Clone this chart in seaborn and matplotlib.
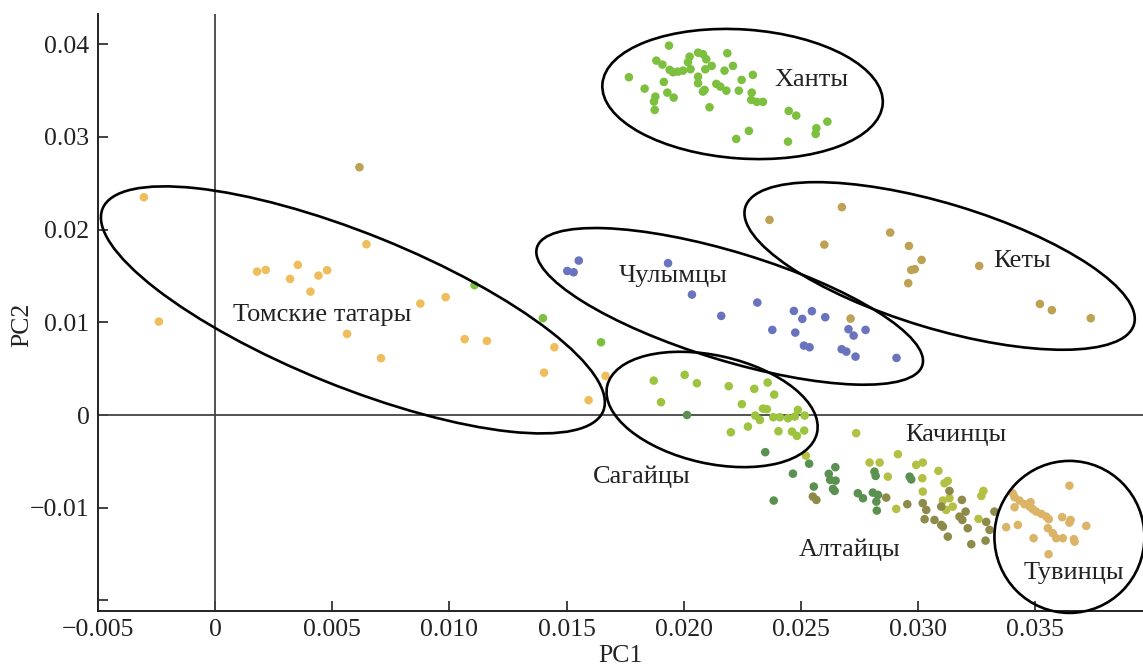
import numpy as np
import pandas as pd
import matplotlib
matplotlib.use('Agg')
import matplotlib.pyplot as plt
import matplotlib.transforms as mtransforms
from matplotlib.patches import Ellipse
import seaborn as sns

# PCA coordinates, one pair of lists per population
khanty_x = [0.01766, 0.01937, 0.01883, 0.01909, 0.01833, 0.01879, 0.01873, 0.01876, 0.01915, 0.01930,
            0.01957, 0.01940, 0.01954, 0.01975, 0.01997, 0.02018, 0.02025, 0.02029, 0.02061, 0.02082,
            0.02096, 0.02119, 0.02092, 0.02061, 0.02061, 0.02082, 0.02089, 0.02110, 0.02139, 0.02156,
            0.02182, 0.02174, 0.02186, 0.02210, 0.02247, 0.02295, 0.02235, 0.02290, 0.02288, 0.02312,
            0.02338, 0.02448, 0.02480, 0.02278, 0.02224, 0.02445, 0.02566, 0.02563, 0.02613,
            0.01107, 0.01399, 0.01647]
khanty_y = [0.03644, 0.03985, 0.03823, 0.03780, 0.03521, 0.03435, 0.03381, 0.03291, 0.03593, 0.03478,
            0.03424, 0.03723, 0.03698, 0.03704, 0.03715, 0.03806, 0.03866, 0.03730, 0.03909, 0.03892,
            0.03838, 0.03766, 0.03730, 0.03650, 0.03579, 0.03489, 0.03507, 0.03320, 0.03572, 0.03543,
            0.03499, 0.03715, 0.03903, 0.03766, 0.03615, 0.03669, 0.03499, 0.03478, 0.03399, 0.03378,
            0.03378, 0.03280, 0.03230, 0.03065, 0.02978, 0.02949, 0.03094, 0.03032, 0.03165,
            0.01400, 0.01044, 0.00785]

tomsk_x = [-0.00304, -0.00240, 0.00179, 0.00216, 0.00353, 0.00320, 0.00441, 0.00478, 0.00407, 0.00646,
           0.00563, 0.00708, 0.00876, 0.00984, 0.01065, 0.01160, 0.01448, 0.01404, 0.01594, 0.01666]
tomsk_y = [0.02349, 0.01008, 0.01547, 0.01565, 0.01619, 0.01468, 0.01504, 0.01562, 0.01331, 0.01842,
           0.00875, 0.00613, 0.01202, 0.01271, 0.00818, 0.00799, 0.00731, 0.00457, 0.00160, 0.00422]

kets_x = [0.00616, 0.02712, 0.02366, 0.02675, 0.02600, 0.02881, 0.02961, 0.03015, 0.02971, 0.02986,
          0.02958, 0.03261, 0.03520, 0.03571, 0.03737]
kets_y = [0.02673, 0.01040, 0.02105, 0.02242, 0.01838, 0.01968, 0.01824, 0.01673, 0.01565, 0.01573,
          0.01422, 0.01608, 0.01198, 0.01131, 0.01044]

chulym_x = [0.01552, 0.01503, 0.01530, 0.01933, 0.02035, 0.02160, 0.02314, 0.02378, 0.02470, 0.02547,
            0.02506, 0.02604, 0.02476, 0.02513, 0.02537, 0.02703, 0.02725, 0.02776, 0.02674, 0.02694,
            0.02733, 0.02908]
chulym_y = [0.01666, 0.01554, 0.01540, 0.01638, 0.01299, 0.01069, 0.01213, 0.00918, 0.01123, 0.01120,
            0.01037, 0.01055, 0.00889, 0.00749, 0.00731, 0.00926, 0.00857, 0.00918, 0.00710, 0.00684,
            0.00630, 0.00616]

sagai_x = [0.01872, 0.02004, 0.02056, 0.01903, 0.02192, 0.02301, 0.02358, 0.02386, 0.02248, 0.02338,
           0.02355, 0.02305, 0.02325, 0.02382, 0.02410, 0.02445, 0.02474, 0.02487, 0.02516, 0.02201,
           0.02274, 0.02404, 0.02462, 0.02483, 0.02514]
sagai_y = [0.00371, 0.00433, 0.00343, 0.00138, 0.00311, 0.00282, 0.00350, 0.00220, 0.00117, 0.00069,
           0.00063, -0.00006, -0.00053, -0.00024, -0.00024, -0.00035, -0.00017, 0.00055, -0.00006, -0.00186,
           -0.00125, -0.00175, -0.00179, -0.00225, -0.00168]

altai_x = [0.02014, 0.02348, 0.02384, 0.02466, 0.02535, 0.02555, 0.02619, 0.02625, 0.02647, 0.02648,
           0.02637, 0.02644, 0.02814, 0.02819, 0.02743, 0.02765, 0.02807, 0.02829, 0.02822, 0.02824,
           0.02964, 0.02971]
altai_y = [0.00000, -0.00401, -0.00923, -0.00633, -0.00525, -0.00772, -0.00635, -0.00700, -0.00563, -0.00708,
           -0.00797, -0.00819, -0.00611, -0.00657, -0.00844, -0.00898, -0.00837, -0.00862, -0.00934, -0.01031,
           -0.00665, -0.00695]

kachin_x = [0.02521, 0.02736, 0.02793, 0.02836, 0.02871, 0.02914, 0.02907, 0.02992, 0.03020, 0.03018,
            0.03020, 0.03087, 0.03113, 0.03127, 0.03106, 0.03134, 0.03148, 0.03258, 0.03279, 0.03270,
            0.03120]
kachin_y = [-0.00438, -0.00196, -0.00513, -0.00513, -0.00665, -0.00423, -0.01013, -0.00538, -0.00513, -0.00682,
            -0.00826, -0.00603, -0.00736, -0.00711, -0.00923, -0.00898, -0.00988, -0.01121, -0.00819, -0.00873,
            -0.01024]

# unlabeled olive points scattered between the Altai/Kachin and Tuva clusters
mixed_x = [0.02551, 0.02566, 0.02864, 0.02954, 0.03020, 0.03035, 0.03028, 0.03134, 0.03099, 0.03187,
           0.03203, 0.03177, 0.03189, 0.03070, 0.03099, 0.03106, 0.03127, 0.03227, 0.03291, 0.03288,
           0.03305, 0.03326, 0.03212]
mixed_y = [-0.00880, -0.00916, -0.00891, -0.00962, -0.00951, -0.01024, -0.01124, -0.00819, -0.00988, -0.00916,
           -0.01042, -0.01096, -0.01132, -0.01132, -0.01186, -0.01204, -0.01312, -0.01394, -0.01153, -0.01355,
           -0.01239, -0.01042, -0.01221]

tuva_x = [0.03646, 0.03404, 0.03412, 0.03433, 0.03454, 0.03480, 0.03476, 0.03490, 0.03504, 0.03526,
          0.03547, 0.03558, 0.03412, 0.03426, 0.03376, 0.03493, 0.03554, 0.03575, 0.03590, 0.03618,
          0.03615, 0.03646, 0.03651, 0.03665, 0.03668, 0.03718, 0.03557]
tuva_y = [-0.00762, -0.00844, -0.00887, -0.00923, -0.00962, -0.00941, -0.00988, -0.01016, -0.01042, -0.01067,
          -0.01096, -0.01124, -0.00995, -0.01186, -0.01210, -0.01329, -0.01221, -0.01275, -0.01329, -0.01329,
          -0.01102, -0.01161, -0.01132, -0.01340, -0.01366, -0.01196, -0.01502]

groups = {
    'Ханты': (khanty_x, khanty_y),
    'Томские татары': (tomsk_x, tomsk_y),
    'Кеты': (kets_x, kets_y),
    'Чулымцы': (chulym_x, chulym_y),
    'Сагайцы': (sagai_x, sagai_y),
    'Алтайцы': (altai_x, altai_y),
    'Качинцы': (kachin_x, kachin_y),
    'прочие': (mixed_x, mixed_y),
    'Тувинцы': (tuva_x, tuva_y),
}

palette = {
    'Ханты': '#7dbf3e',
    'Томские татары': '#efbe5c',
    'Кеты': '#bca252',
    'Чулымцы': '#6a73bd',
    'Сагайцы': '#9dc43f',
    'Алтайцы': '#5a9150',
    'Качинцы': '#b4c043',
    'прочие': '#8e8a4a',
    'Тувинцы': '#dcb468',
}

# group names written on the plot (label, x, y)
labels = [
    ('Ханты', 0.02546, 0.03615),
    ('Кеты', 0.03446, 0.01662),
    ('Чулымцы', 0.01953, 0.01501),
    ('Томские татары', 0.00455, 0.01080),
    ('Сагайцы', 0.01820, -0.00670),
    ('Качинцы', 0.03160, -0.00215),
    ('Алтайцы', 0.02708, -0.01455),
    ('Тувинцы', 0.03667, -0.01705),
]

# hand drawn ellipses: centre in data units, width/height in pixels, tilt in degrees
ellipses = [
    (0.02251, 0.03463, 281, 129, -4),
    (0.00588, 0.01134, 540, 153, -22),
    (0.02196, 0.01172, 403, 108, -17),
    (0.03092, 0.01608, 406, 125, -16.8),
    (0.02121, 0.00060, 215, 108, -12.6),
    (0.03646, -0.01315, 150, 152, 0),
]

xticks = [-0.005, 0, 0.005, 0.010, 0.015, 0.020, 0.025, 0.030, 0.035]
xticklabels = ['\u22120.005', '0', '0.005', '0.010', '0.015', '0.020', '0.025', '0.030', '0.035']
yticks = [-0.02, -0.01, 0, 0.01, 0.02, 0.03, 0.04]
yticklabels = ['', '\u22120.01', '0', '0.01', '0.02', '0.03', '0.04']

rows = []
for name, (xs, ys) in groups.items():
    for x, y in zip(xs, ys):
        rows.append((name, x, y))
df = pd.DataFrame(rows, columns=['group', 'PC1', 'PC2'])

sns.set_style('ticks')
plt.rcParams['font.family'] = ['Liberation Serif', 'DejaVu Serif']
plt.rcParams['axes.unicode_minus'] = True

fig = plt.figure(figsize=(11.43, 6.70), dpi=100)
ax = fig.add_axes([0.0857, 0.0881, 0.9143, 0.8910])

ax.axvline(0, color='#444444', lw=1.3, zorder=1)
ax.axhline(0, color='#444444', lw=1.3, zorder=1)

sns.scatterplot(data=df, x='PC1', y='PC2', hue='group', palette=palette,
                s=38, linewidth=0, legend=False, ax=ax, zorder=3)

ax.set_xlim(-0.005, 0.0396)
ax.set_ylim(-0.02114, 0.04326)
ax.set_xticks(xticks)
ax.set_xticklabels(xticklabels)
ax.set_yticks(yticks)
ax.set_yticklabels(yticklabels)
ax.tick_params(direction='in', length=7, width=1.2, labelsize=18.5, colors='#222222', pad=6)

for side in ['top', 'right']:
    ax.spines[side].set_visible(False)
for side in ['left', 'bottom']:
    ax.spines[side].set_linewidth(1.4)
    ax.spines[side].set_color('#222222')

ax.set_xlabel('PC1', fontsize=18.5, color='#222222')
ax.set_ylabel('PC2', fontsize=18.5, color='#222222')
ax.xaxis.set_label_coords(0.4995, -0.057)
ax.yaxis.set_label_coords(-0.062, 0.479)

for cx, cy, w, h, ang in ellipses:
    tr = mtransforms.ScaledTranslation(cx, cy, ax.transData)
    e = Ellipse((0, 0), w, h, angle=ang, fill=False, edgecolor='black',
                lw=1.9, transform=tr, clip_on=False, zorder=4)
    ax.add_patch(e)

for text, x, y in labels:
    ax.text(x, y, text, fontsize=19, color='#222222', ha='center', va='center', zorder=5)

fig.savefig('out.png', dpi=100)
